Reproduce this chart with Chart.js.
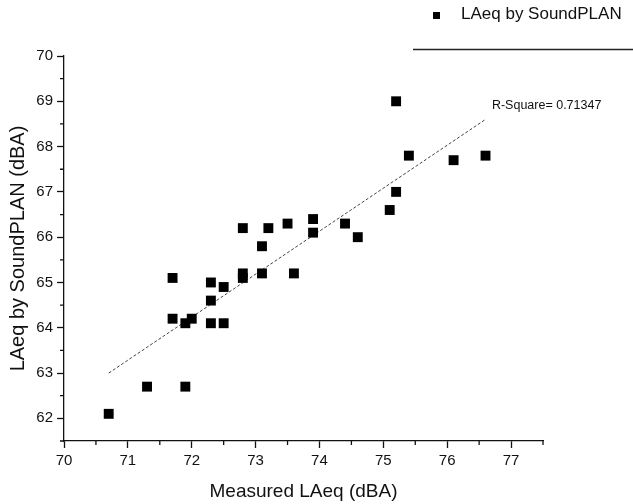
<!DOCTYPE html>
<html>
<head>
<meta charset="utf-8">
<script src="https://cdn.jsdelivr.net/npm/chart.js@4/dist/chart.umd.min.js"></script>
<style>
    html, body { margin: 0; padding: 0; background: #fff; }
</style>
</head>
<body>
<canvas id="chart" width="633" height="504"></canvas>
<script>
// Measured vs SoundPLAN levels
const measured = [
    70.7, 71.3, 71.9, 71.7, 71.7, 71.9, 72.0, 72.3, 72.3, 72.3,
    72.5, 72.5, 72.8, 72.8, 72.8, 73.1, 73.1, 73.2, 73.5, 73.6,
    73.9, 73.9, 74.4, 74.6, 75.1, 75.2, 75.2, 75.4, 76.1, 76.6,
];
const soundplan = [
    62.1, 62.7, 62.7, 65.1, 64.2, 64.1, 64.2, 65.0, 64.6, 64.1,
    64.9, 64.1, 65.2, 65.1, 66.2, 65.2, 65.8, 66.2, 66.3, 65.2,
    66.1, 66.4, 66.3, 66.0, 66.6, 67.0, 69.0, 67.8, 67.7, 67.8,
];

// linear fit end points
const fitX = [70.7, 76.6];
const fitY = [63.0, 68.6];

const seriesLabel = 'LAeq by SoundPLAN';
const rSquareText = 'R-Square= 0.71347';
const rSquareAt = { x: 76.7, y: 68.9 };

const xRange = { min: 70, max: 77.5 };
const yRange = { min: 61.5, max: 70 };

const FONT = '"Liberation Sans", Arial, sans-serif';
const INK = '#111';

const points = measured.map((x, i) => ({ x, y: soundplan[i] }));
const fitLine = fitX.map((x, i) => ({ x, y: fitY[i] }));

// labelled ticks on whole numbers only
const wholeTicks = (scale) => {
    const ticks = [];
    for (let v = Math.ceil(scale.min); v <= Math.floor(scale.max); v++) {
        ticks.push({ value: v });
    }
    scale.ticks = ticks;
};

// half-unit ticks, shorter than the labelled ones
const minorTicks = {
    id: 'minorTicks',
    afterDraw: (chart) => {
        const ctx = chart.ctx;
        const xs = chart.scales.x;
        const ys = chart.scales.y;
        ctx.save();
        ctx.strokeStyle = INK;
        ctx.lineWidth = 1.3;
        ctx.beginPath();
        for (let v = xs.min + 0.5; v <= xs.max; v += 1) {
            const px = xs.getPixelForValue(v);
            ctx.moveTo(px, ys.bottom);
            ctx.lineTo(px, ys.bottom + 4);
        }
        for (let v = ys.min; v < ys.max; v += 1) {
            const py = ys.getPixelForValue(v);
            ctx.moveTo(xs.left, py);
            ctx.lineTo(xs.left - 4, py);
        }
        ctx.stroke();
        ctx.restore();
    },
};

// legend in the top right corner, the rule under it and the R-square note
const decorations = {
    id: 'decorations',
    afterDraw: (chart) => {
        const ctx = chart.ctx;
        const xs = chart.scales.x;
        const ys = chart.scales.y;
        ctx.save();

        ctx.fillStyle = '#000';
        ctx.fillRect(433, 12, 7, 7);
        ctx.fillStyle = INK;
        ctx.font = '17px ' + FONT;
        ctx.textBaseline = 'alphabetic';
        ctx.textAlign = 'left';
        ctx.fillText(seriesLabel, 461, 19);

        ctx.strokeStyle = '#222';
        ctx.lineWidth = 1.3;
        ctx.beginPath();
        ctx.moveTo(413, 49.5);
        ctx.lineTo(633, 49.5);
        ctx.stroke();

        ctx.font = '12.5px ' + FONT;
        ctx.textBaseline = 'middle';
        ctx.fillText(rSquareText, xs.getPixelForValue(rSquareAt.x), ys.getPixelForValue(rSquareAt.y));

        ctx.restore();
    },
};

const axisStyle = {
    grid: {
        display: true,
        drawOnChartArea: false,
        drawTicks: true,
        tickLength: 7,
        tickColor: INK,
        tickWidth: 1.3,
    },
    border: {
        display: true,
        color: INK,
        width: 1.3,
    },
};

const config = {
    type: 'scatter',
    data: {
        datasets: [
            {
                label: seriesLabel,
                data: points,
                pointStyle: 'rect',
                pointRadius: 7,
                pointHoverRadius: 7,
                backgroundColor: '#000',
                borderColor: '#000',
                borderWidth: 0,
                order: 1,
            },
            {
                type: 'line',
                label: 'Linear fit',
                data: fitLine,
                borderColor: '#444',
                borderWidth: 1,
                borderDash: [3, 2],
                pointRadius: 0,
                fill: false,
                tension: 0,
                order: 2,
            },
        ],
    },
    options: {
        responsive: false,
        animation: false,
        layout: {
            padding: { left: 0, right: 90, top: 56, bottom: 0 },
        },
        plugins: {
            legend: { display: false },
            tooltip: { enabled: false },
        },
        scales: {
            x: {
                type: 'linear',
                min: xRange.min,
                max: xRange.max,
                ...axisStyle,
                afterBuildTicks: wholeTicks,
                afterFit: (scale) => { scale.height = 63; },
                ticks: {
                    stepSize: 1,
                    padding: 4,
                    color: INK,
                    font: { family: FONT, size: 15 },
                },
                title: {
                    display: true,
                    text: 'Measured LAeq (dBA)',
                    color: INK,
                    font: { family: FONT, size: 19 },
                    padding: { top: 0, bottom: 1 },
                },
            },
            y: {
                type: 'linear',
                min: yRange.min,
                max: yRange.max,
                ...axisStyle,
                afterBuildTicks: wholeTicks,
                afterFit: (scale) => { scale.width = 64; },
                ticks: {
                    stepSize: 1,
                    padding: 4,
                    color: INK,
                    font: { family: FONT, size: 15 },
                },
                title: {
                    display: true,
                    text: 'LAeq by SoundPLAN (dBA)',
                    color: INK,
                    font: { family: FONT, size: 20 },
                    padding: { top: 6, bottom: 0 },
                },
            },
        },
    },
    plugins: [minorTicks, decorations],
};

new Chart(document.getElementById('chart').getContext('2d'), config);
</script>
</body>
</html>
